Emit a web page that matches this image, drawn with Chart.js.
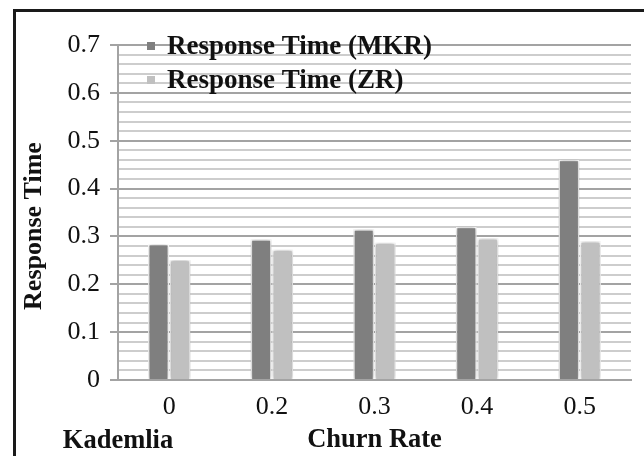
<!DOCTYPE html>
<html>
<head>
<meta charset="utf-8">
<script src="https://cdn.jsdelivr.net/npm/chart.js@4.4.1/dist/chart.umd.min.js"></script>
<style>
  html, body { margin: 0; padding: 0; background: #fff; }
  #wrap { position: relative; width: 644px; height: 456px; overflow: hidden; }
  #frame { position: absolute; left: 13px; top: 9px; width: 700px; height: 500px;
           border-left: 3px solid #1a1a1a; border-top: 3px solid #1a1a1a; pointer-events: none; }
  canvas { position: absolute; left: 0; top: 0; }
</style>
</head>
<body>
<div id="wrap">
  <canvas id="c" width="644" height="456"></canvas>
  <div id="frame"></div>
</div>
<script>
const categories = ['0', '0.2', '0.3', '0.4', '0.5'];
const mkrValues = [0.284, 0.294, 0.315, 0.320, 0.460];
const zrValues = [0.251, 0.272, 0.287, 0.296, 0.290];
const seriesLabels = ['Response Time (MKR)', 'Response Time (ZR)'];
const yTitle = 'Response Time';
const xTitle = 'Churn Rate';
const cornerLabel = 'Kademlia';

const SERIF = '"Liberation Serif", "Times New Roman", serif';
const isMajor = v => Math.abs(v * 10 - Math.round(v * 10)) < 1e-6;

const shadowPlugin = {
  id: 'barShadow',
  beforeDatasetsDraw(chart) {
    const ctx = chart.ctx;
    ctx.save();
    ctx.shadowColor = 'rgba(0,0,0,0.35)';
    ctx.shadowBlur = 4;
    ctx.shadowOffsetX = 0;
    ctx.shadowOffsetY = 0;
  },
  afterDatasetsDraw(chart) {
    chart.ctx.restore();
  }
};

const innerLegend = {
  id: 'innerLegend',
  afterDatasetsDraw(chart) {
    const ctx = chart.ctx;
    ctx.save();
    ctx.font = 'bold 27px ' + SERIF;
    ctx.textBaseline = 'middle';
    ctx.textAlign = 'left';
    const ys = [46, 80];
    chart.data.datasets.forEach((ds, i) => {
      ctx.fillStyle = ds.backgroundColor;
      ctx.fillRect(147, ys[i] - 4, 8, 8);
      ctx.fillStyle = '#111';
      ctx.fillText(ds.label, 167, ys[i] + 1);
    });
    ctx.restore();
  }
};

const extraText = {
  id: 'extraText',
  afterDraw(chart) {
    const ctx = chart.ctx;
    ctx.save();
    ctx.font = 'bold 26.5px ' + SERIF;
    ctx.textBaseline = 'middle';
    ctx.textAlign = 'center';
    ctx.fillStyle = '#111';
    ctx.fillText(cornerLabel, 118, 441);
    ctx.translate(34, 226);
    ctx.rotate(-Math.PI / 2);
    ctx.font = 'bold 26px ' + SERIF;
    ctx.fillText(yTitle, 0, 0);
    ctx.restore();
  }
};

new Chart(document.getElementById('c'), {
  type: 'bar',
  data: {
    labels: categories,
    datasets: [
      { label: seriesLabels[0], data: mkrValues, backgroundColor: '#7f7f7f',
        borderColor: '#ffffff', borderWidth: 1.5, borderSkipped: 'bottom',
        categoryPercentage: 0.42, barPercentage: 0.97 },
      { label: seriesLabels[1], data: zrValues, backgroundColor: '#c0c0c0',
        borderColor: '#ffffff', borderWidth: 1.5, borderSkipped: 'bottom',
        categoryPercentage: 0.42, barPercentage: 0.97 }
    ]
  },
  options: {
    responsive: false,
    animation: false,
    devicePixelRatio: 1,
    layout: { padding: { left: 16, right: 13, top: 45, bottom: 0 } },
    plugins: {
      legend: { display: false },
      tooltip: { enabled: false }
    },
    scales: {
      x: {
        grid: { display: false },
        border: { display: true, color: '#a3a3a3', width: 2 },
        ticks: { color: '#111', font: { family: SERIF, size: 26 }, padding: 4 },
        title: { display: true, text: xTitle, color: '#111',
                 font: { family: SERIF, size: 26.5, weight: 'bold' }, padding: { top: 0, bottom: 0 } },
        afterFit(scale) { scale.height = 76; }
      },
      y: {
        min: 0, max: 0.7,
        ticks: {
          stepSize: 0.02, maxTicksLimit: 60, autoSkip: false,
          color: '#111', font: { family: SERIF, size: 26 }, padding: 10,
          callback: v => isMajor(v) ? (Math.round(v * 10) / 10).toString() : ''
        },
        grid: {
          drawTicks: true, tickLength: 8, lineWidth: 2,
          color: ctx => isMajor(ctx.tick.value) ? '#a3a3a3' : '#cdcdcd',
          tickColor: ctx => isMajor(ctx.tick.value) ? '#a3a3a3' : 'rgba(0,0,0,0)'
        },
        border: { display: true, color: '#a3a3a3', width: 2 },
        title: { display: false },
        afterFit(scale) { scale.width = 102; }
      }
    }
  },
  plugins: [shadowPlugin, innerLegend, extraText]
});
</script>
</body>
</html>
